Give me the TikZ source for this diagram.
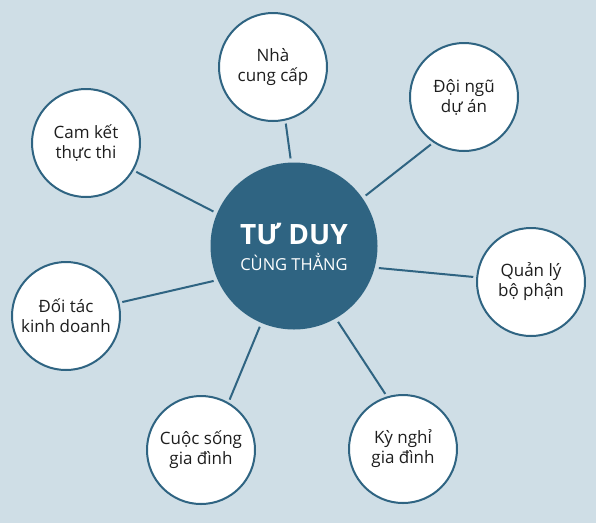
\documentclass[tikz,border=0pt]{standalone}
\usepackage{fontspec}
\setmainfont{Open Sans}
\definecolor{bgc}{HTML}{CFDEE6}
\definecolor{hubc}{HTML}{2F6482}
\definecolor{txtc}{HTML}{1E1E1E}

\begin{document}
\begin{tikzpicture}[x=1pt,y=-1pt,
    item/.style={circle,draw=hubc,line width=2pt,fill=white,minimum size=108pt,
      inner sep=0pt,align=center,text=txtc,font=\fontsize{17}{20}\selectfont}]
    \fill[bgc] (0,0) rectangle (596,523);
    \node[circle,fill=hubc,minimum size=167pt] (hub) at (294,246) {};
    \node[anchor=base,text=white,font=\fontsize{28}{28}\selectfont\bfseries] (tuduy) at (294,244) {TƯ DUY};
    \node[anchor=base,text=white,font=\fontsize{16.5}{17}\selectfont] (cungthang) at (294,270) {CÙNG THẲNG};
    \node[item] (nhacc) at (273,67) {Nhà\\cung cấp};
    \node[item] (doingu) at (464,97) {Đội ngũ\\dự án};
    \node[item] (quanly) at (531,282) {Quản lý\\bộ phận};
    \node[item] (kynghi) at (403,449) {Kỳ nghỉ\\gia đình};
    \node[item] (cuocsong) at (201,450) {Cuộc sống\\gia đình};
    \node[item] (doitac) at (66,316) {Đối tác\\kinh doanh};
    \node[item] (camket) at (86,143) {Cam kết\\thực thi};
    \path[draw=hubc,line width=2pt,shorten <=4pt,shorten >=3pt]
    (hub.92) edge (nhacc.-77)
    (hub.35) edge (doingu.-124)
    (hub.-15) edge (quanly.175)
    (hub.-60) edge (kynghi.107)
    (hub.-113) edge (cuocsong.60)
    (hub.-156) edge (doitac.14)
    (hub.157) edge (camket.-30);
\end{tikzpicture}
\end{document}
